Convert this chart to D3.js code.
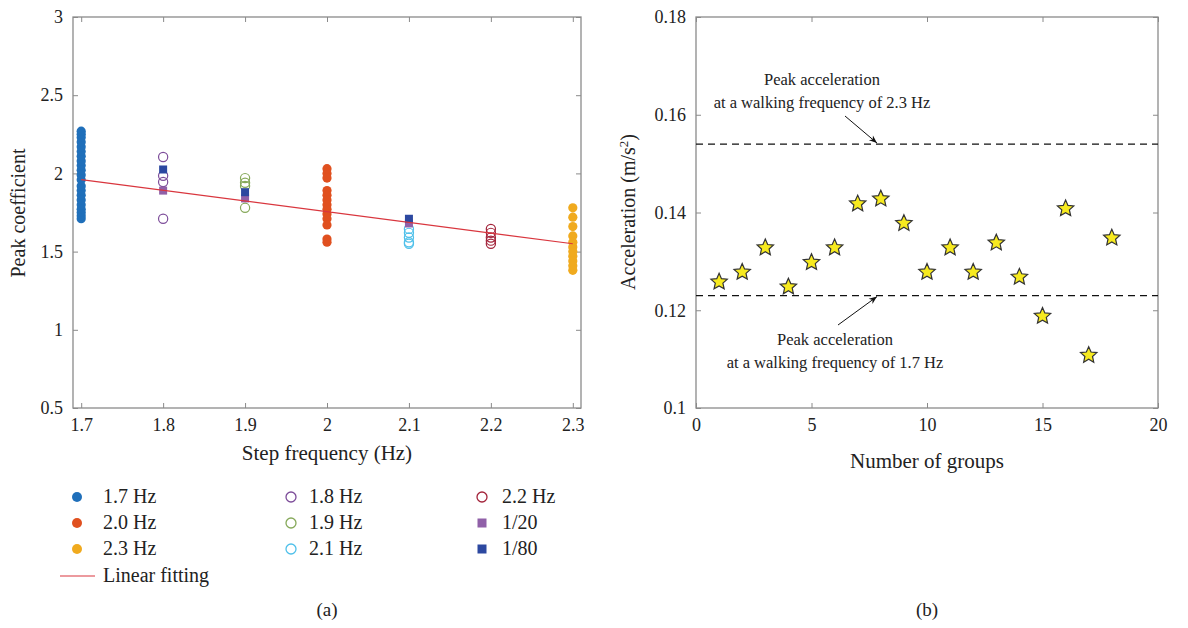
<!DOCTYPE html>
<html><head><meta charset="utf-8">
<script src="https://cdn.jsdelivr.net/npm/d3@7"></script>
<style>body{margin:0;background:#fff}svg{font-family:"Liberation Serif","DejaVu Serif",serif}</style>
</head><body><svg id="c" width="1188" height="628"></svg>
<script>
// ---- Panel (a) data ----
const xTicksA = [1.7,1.8,1.9,2.0,2.1,2.2,2.3];
const xTickLabelsA = ["1.7","1.8","1.9","2","2.1","2.2","2.3"];
const yTicksA = [0.5,1,1.5,2,2.5,3];
const f17 = [1.71,1.73,1.75,1.77,1.80,1.83,1.86,1.89,1.92,1.96,1.99,2.02,2.05,2.08,2.11,2.14,2.17,2.20,2.23,2.25,2.27];
const f20 = [2.03,2.00,1.97,1.89,1.86,1.83,1.80,1.77,1.74,1.71,1.67,1.58,1.56];
const f23 = [1.78,1.72,1.66,1.60,1.56,1.53,1.50,1.47,1.44,1.41,1.38];
const f18 = [2.105,1.985,1.945,1.71];
const f19 = [1.97,1.94,1.92,1.78];
const f21 = [1.645,1.62,1.59,1.56,1.55];
const f22 = [1.645,1.62,1.59,1.57,1.55];
const sq20 = [[1.8,1.89],[1.9,1.84],[2.1,1.68]];
const sq80 = [[1.8,2.025],[1.9,1.88],[2.1,1.71]];
const fitLine = [[1.7,1.96],[2.3,1.55]];
// ---- Panel (b) data ----
const groups = [1,2,3,4,5,6,7,8,9,10,11,12,13,14,15,16,17,18];
const accel = [0.126,0.128,0.133,0.125,0.130,0.133,0.142,0.143,0.138,0.128,0.133,0.128,0.134,0.127,0.119,0.141,0.111,0.135];
const peak23 = 0.154, peak17 = 0.123;
const xTicksB = [0,5,10,15,20];
const yTicksB = [0.1,0.12,0.14,0.16,0.18];

const C = {b:"#1f6fba", o:"#e0501f", y:"#f0aa1e", p:"#7d4d9a", g:"#86a95a", c:"#4fc0ea", r:"#a3243b", sp:"#9060a8", sb:"#2c48a0", line:"#d9363e", axis:"#8a8a8a", text:"#222"};
const svg = d3.select("#c");

function box(g, x, y, xt, yt, xfmt, yfmt){
  const [x0,x1]=x.range(), [y0,y1]=y.range();
  const ax = g.append("g").attr("transform",`translate(0,${y0})`).call(d3.axisBottom(x).tickValues(xt).tickSize(-5).tickPadding(10).tickFormat(xfmt));
  const ay = g.append("g").attr("transform",`translate(${x0},0)`).call(d3.axisLeft(y).tickValues(yt).tickSize(-5).tickPadding(10).tickFormat(yfmt));
  const at = g.append("g").attr("transform",`translate(0,${y1})`).call(d3.axisTop(x).tickValues(xt).tickSize(-5).tickFormat(""));
  const ar = g.append("g").attr("transform",`translate(${x1},0)`).call(d3.axisRight(y).tickValues(yt).tickSize(-5).tickFormat(""));
  [ax,ay,at,ar].forEach(a=>{a.select(".domain").remove();a.selectAll("line").attr("stroke",C.axis);a.selectAll("text").attr("fill",C.text).style("font-size","18px").style("font-family","Liberation Serif");});
  g.append("rect").attr("x",x0).attr("y",y1).attr("width",x1-x0).attr("height",y0-y1).attr("fill","none").attr("stroke",C.axis).attr("stroke-width",1.3);
}

// Panel (a)
const xa = d3.scaleLinear().domain([1.69,2.31]).range([73,581]);
const ya = d3.scaleLinear().domain([0.5,3]).range([408,17]);
const ga = svg.append("g");
box(ga, xa, ya, xTicksA, yTicksA, (d,i)=>xTickLabelsA[i], d=>String(d));
const R=4.6;
function filled(arr, xv, col){ ga.selectAll(null).data(arr).enter().append("circle").attr("cx",xa(xv)).attr("cy",d=>ya(d)).attr("r",R).attr("fill",col); }
function open(arr, xv, col){ ga.selectAll(null).data(arr).enter().append("circle").attr("cx",xa(xv)).attr("cy",d=>ya(d)).attr("r",R).attr("fill","none").attr("stroke",col).attr("stroke-width",1.2); }
filled(f17,1.7,C.b); filled(f20,2.0,C.o); filled(f23,2.3,C.y);
open(f18,1.8,C.p); open(f19,1.9,C.g); open(f21,2.1,C.c); open(f22,2.2,C.r);
function squares(arr,col){ ga.selectAll(null).data(arr).enter().append("rect").attr("x",d=>xa(d[0])-4).attr("y",d=>ya(d[1])-4).attr("width",8).attr("height",8).attr("fill",col); }
squares(sq20,C.sp); squares(sq80,C.sb);
ga.append("path").attr("d",d3.line().x(d=>xa(d[0])).y(d=>ya(d[1]))(fitLine)).attr("stroke",C.line).attr("stroke-width",1.2).attr("fill","none");
ga.append("text").attr("x",327).attr("y",460).attr("text-anchor","middle").style("font-size","21px").attr("fill",C.text).text("Step frequency (Hz)");
ga.append("text").attr("transform","translate(25,213) rotate(-90)").attr("text-anchor","middle").style("font-size","20px").attr("fill",C.text).text("Peak coefficient");
ga.append("text").attr("x",327).attr("y",616).attr("text-anchor","middle").style("font-size","19px").attr("fill",C.text).text("(a)");

// Legend
const legendItems = [
 {t:"1.7 Hz",k:"fc",c:C.b,col:0,row:0},{t:"2.0 Hz",k:"fc",c:C.o,col:0,row:1},{t:"2.3 Hz",k:"fc",c:C.y,col:0,row:2},{t:"Linear fitting",k:"ln",c:C.line,col:0,row:3},
 {t:"1.8 Hz",k:"oc",c:C.p,col:1,row:0},{t:"1.9 Hz",k:"oc",c:C.g,col:1,row:1},{t:"2.1 Hz",k:"oc",c:C.c,col:1,row:2},
 {t:"2.2 Hz",k:"oc",c:C.r,col:2,row:0},{t:"1/20",k:"sq",c:C.sp,col:2,row:1},{t:"1/80",k:"sq",c:C.sb,col:2,row:2}];
const colMX=[77,291,482], colTX=[103,309,502], rowY=[497,523,549,576];
legendItems.forEach(d=>{
  const mx=colMX[d.col], my=rowY[d.row];
  if(d.k==="fc") ga.append("circle").attr("cx",mx).attr("cy",my).attr("r",5).attr("fill",d.c);
  else if(d.k==="oc") ga.append("circle").attr("cx",mx).attr("cy",my).attr("r",5).attr("fill","none").attr("stroke",d.c).attr("stroke-width",1.3);
  else if(d.k==="sq") ga.append("rect").attr("x",mx-4.5).attr("y",my-4.5).attr("width",9).attr("height",9).attr("fill",d.c);
  else ga.append("line").attr("x1",60).attr("x2",95).attr("y1",my).attr("y2",my).attr("stroke",d.c).attr("stroke-width",1.2);
  ga.append("text").attr("x",colTX[d.col]).attr("y",my+6).style("font-size","20px").attr("fill",C.text).text(d.t);
});

// Panel (b)
const xb = d3.scaleLinear().domain([0,20]).range([696,1158]);
const yb = d3.scaleLinear().domain([0.1,0.18]).range([408,17]);
const gb = svg.append("g");
box(gb, xb, yb, xTicksB, yTicksB, d=>String(d), d=>d===0.1?"0.1":d3.format(".2f")(d));
[peak23,peak17].forEach(v=>gb.append("line").attr("x1",xb(0)).attr("x2",xb(20)).attr("y1",yb(v)).attr("y2",yb(v)).attr("stroke","#111").attr("stroke-width",1.2).attr("stroke-dasharray","7,5"));
function starPath(ro, ri){ const p=[]; for(let k=0;k<10;k++){const r=k%2?ri:ro, a=-Math.PI/2+k*Math.PI/5; p.push([r*Math.cos(a), r*Math.sin(a)]);} return "M"+p.map(q=>q[0].toFixed(2)+","+q[1].toFixed(2)).join("L")+"Z"; }
const starD = starPath(8.6, 4.0);
gb.selectAll(null).data(groups).enter().append("path").attr("d",starD).attr("transform",(d,i)=>`translate(${xb(d)},${yb(accel[i])+1})`).attr("fill","#f7ea1f").attr("stroke","#333").attr("stroke-width",1.2).attr("stroke-linejoin","miter");
gb.append("defs").append("marker").attr("id","ah").attr("viewBox","0 0 10 10").attr("refX",10).attr("refY",5).attr("markerWidth",12).attr("markerHeight",8).attr("orient","auto").attr("markerUnits","userSpaceOnUse").append("path").attr("d","M0,1 L10,5 L0,9 L3,5 Z").attr("fill","#111");
function note(cx,y1,lines){lines.forEach((t,i)=>gb.append("text").attr("x",cx).attr("y",y1+i*23).attr("text-anchor","middle").style("font-size","16.5px").attr("fill",C.text).text(t));}
note(822,85,["Peak acceleration","at a walking frequency of 2.3 Hz"]);
note(835,345,["Peak acceleration","at a walking frequency of 1.7 Hz"]);
gb.append("line").attr("x1",845).attr("y1",116).attr("x2",877).attr("y2",yb(peak23)-1).attr("stroke","#111").attr("stroke-width",1).attr("marker-end","url(#ah)");
gb.append("line").attr("x1",838).attr("y1",325).attr("x2",877).attr("y2",yb(peak17)+1).attr("stroke","#111").attr("stroke-width",1).attr("marker-end","url(#ah)");
const yl = gb.append("text").attr("transform","translate(635,212) rotate(-90)").attr("text-anchor","middle").style("font-size","20px").attr("fill",C.text);
yl.append("tspan").text("Acceleration (m/s");
yl.append("tspan").attr("dy",-7).style("font-size","13px").text("2");
yl.append("tspan").attr("dy",7).text(")");
gb.append("text").attr("x",927).attr("y",468).attr("text-anchor","middle").style("font-size","21px").attr("fill",C.text).text("Number of groups");
gb.append("text").attr("x",927).attr("y",616).attr("text-anchor","middle").style("font-size","19px").attr("fill",C.text).text("(b)");
</script></body></html>
